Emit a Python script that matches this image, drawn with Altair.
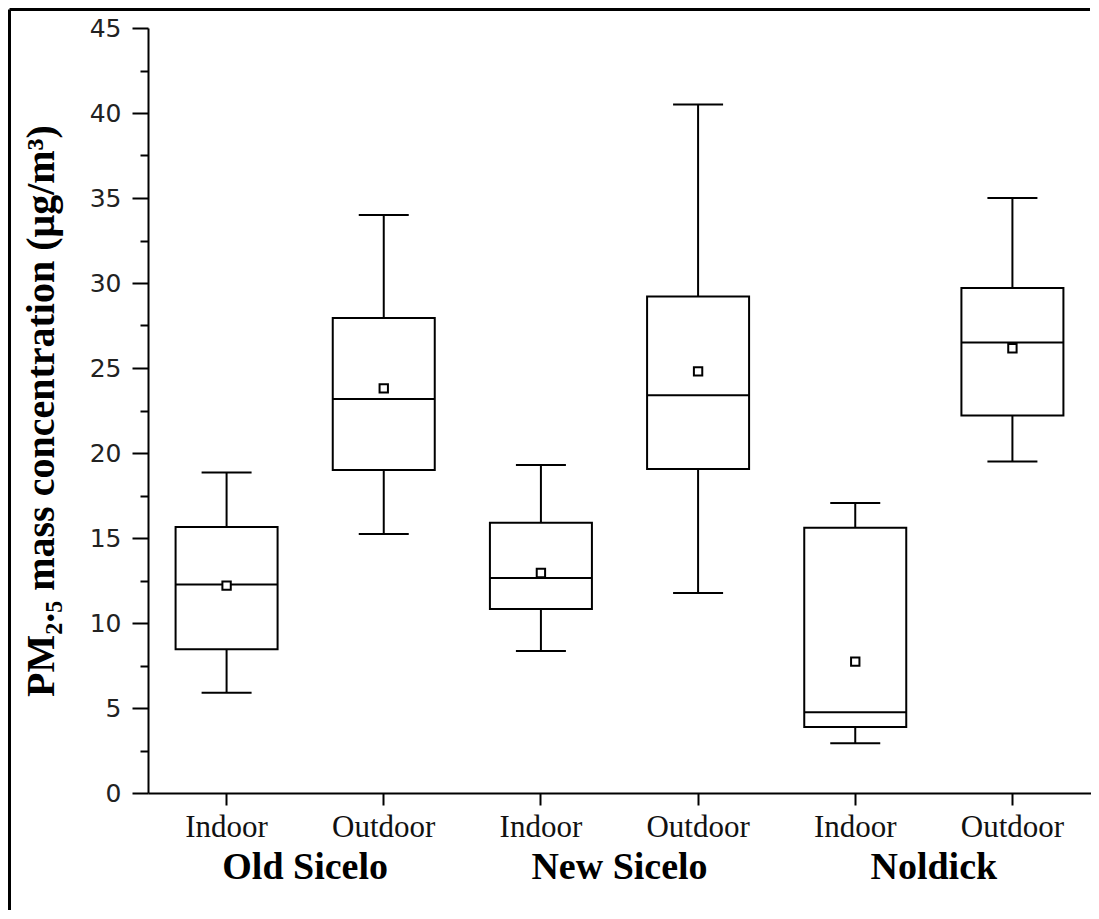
import altair as alt
import pandas as pd

# ---- data ----
sites = ["Old Sicelo", "Old Sicelo", "New Sicelo", "New Sicelo", "Noldick", "Noldick"]
envs = ["Indoor", "Outdoor", "Indoor", "Outdoor", "Indoor", "Outdoor"]
whisker_low = [5.9, 15.24, 8.35, 11.76, 2.92, 19.5]
q1 = [8.45, 19.0, 10.82, 19.06, 3.88, 22.2]
median = [12.26, 23.18, 12.65, 23.4, 4.75, 26.5]
mean = [12.2, 23.8, 12.94, 24.8, 7.73, 26.16]
q3 = [15.65, 27.94, 15.9, 29.2, 15.6, 29.7]
whisker_high = [18.86, 34.0, 19.3, 40.5, 17.06, 35.0]

group_names = ["Old Sicelo", "New Sicelo", "Noldick"]
y_ticks = [i * 2.5 for i in range(19)]

keys = [f"{s}|{e}" for s, e in zip(sites, envs)]
df = pd.DataFrame({
    "key": keys, "site": sites, "env": envs,
    "low": whisker_low, "q1": q1, "median": median,
    "mean": mean, "q3": q3, "high": whisker_high,
})
groups = pd.DataFrame({"name": group_names, "key": [k for k in keys if k.endswith("Indoor")]})

xscale = alt.Scale(domain=keys, paddingInner=0, paddingOuter=0)
yscale = alt.Scale(domain=[0, 45], nice=False, zero=True)

x_enc = alt.X(
    "key:N", scale=xscale, title=None,
    axis=alt.Axis(
        labelExpr="split(datum.label, '|')[1]", labelAngle=0,
        labelFont="Liberation Serif", labelFontSize=31, labelColor="#111",
        labelPadding=7, tickSize=12, tickWidth=2, tickColor="black",
        domainWidth=2, domainColor="black", grid=False,
    ),
)

y_axis = alt.Axis(
    values=y_ticks,
    labelExpr="datum.value % 5 === 0 ? datum.label : ''",
    tickSize={"condition": {"test": "datum.value % 5 === 0", "value": 16}, "value": 8},
    tickWidth=2, tickColor="black", domainWidth=2, domainColor="black",
    labelFont="DejaVu Sans", labelFontSize=25, labelColor="#222", labelPadding=11,
    grid=False,
    title="PM₂.₅ mass concentration (μg/m³)",
    titleFont="Liberation Serif", titleFontSize=40, titleFontWeight="bold",
    titleColor="black", titlePadding=28,
)

base = alt.Chart(df)

whisk = base.mark_rule(color="black", strokeWidth=2).encode(
    x=x_enc,
    y=alt.Y("low:Q", scale=yscale, axis=y_axis),
    y2="high:Q",
)
caps_low = base.mark_tick(color="black", size=50, thickness=2, opacity=1).encode(
    x="key:N", y="low:Q")
caps_high = base.mark_tick(color="black", size=50, thickness=2, opacity=1).encode(
    x="key:N", y="high:Q")
box = base.mark_bar(size=102, fill="white", stroke="black", strokeWidth=2, opacity=1).encode(
    x="key:N", y="q1:Q", y2="q3:Q")
med = base.mark_tick(color="black", size=102, thickness=2, opacity=1).encode(
    x="key:N", y="median:Q")
mn = base.mark_point(shape="square", size=70, filled=True, fill="white",
                     stroke="black", strokeWidth=2, opacity=1).encode(
    x="key:N", y="mean:Q")

glabels = alt.Chart(groups).mark_text(
    font="Liberation Serif", fontSize=38, fontWeight="bold", color="black",
    baseline="middle", align="center",
).encode(
    x=alt.X("key:N", bandPosition=1),
    y=alt.value(840),
    text="name:N",
)

one = pd.DataFrame({"a": [0]})
frame_top = alt.Chart(one).mark_rule(color="black", strokeWidth=3).encode(
    x=alt.value(-138.5), x2=alt.value(942), y=alt.value(-18.5))
frame_left = alt.Chart(one).mark_rule(color="black", strokeWidth=3).encode(
    x=alt.value(-138.5), y=alt.value(-18.5), y2=alt.value(882))

chart = alt.layer(whisk, caps_low, caps_high, box, med, mn, glabels,
                  frame_top, frame_left).properties(
    width=943, height=765,
    autosize=alt.AutoSizeParams(type="none"),
    padding={"left": 140, "top": 20, "right": 0, "bottom": 118},
    background="white",
).configure_view(stroke=None)

chart.save("out.html", embed_options={"renderer": "svg", "actions": False})
